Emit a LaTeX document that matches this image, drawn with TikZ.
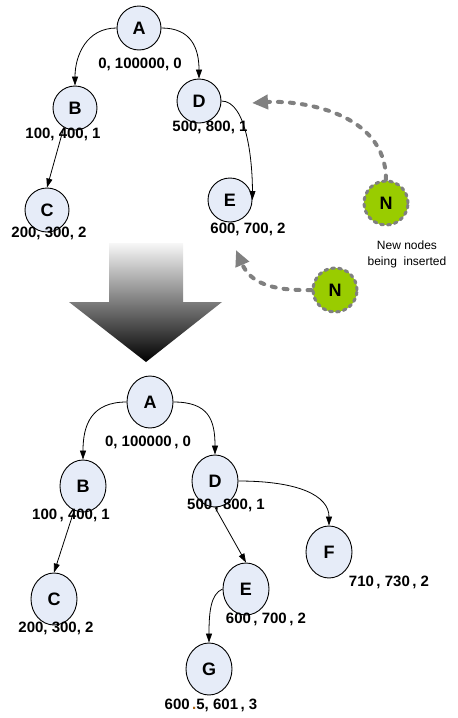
\documentclass[tikz,border=0pt]{standalone}
\usepackage{fontspec}
\setmainfont{Liberation Sans}
\usetikzlibrary{shapes.geometric,arrows.meta,calc}
\definecolor{nodefill}{RGB}{230,236,248}
\definecolor{newgreen}{RGB}{153,204,0}
\definecolor{insgray}{RGB}{128,128,128}
\definecolor{dotbrown}{RGB}{170,100,20}
\begin{document}
\begin{tikzpicture}[x=1pt,y=-1pt,
  treenode/.style={ellipse,draw=black,line width=0.9pt,fill=nodefill,inner sep=0pt,font=\fontsize{18}{18}\selectfont\bfseries},
  topnode/.style={treenode,minimum width=44pt,minimum height=44pt},
  botnode/.style={treenode,minimum width=46pt,minimum height=52pt},
  keylabel/.style={font=\fontsize{15}{15}\selectfont\bfseries,inner sep=0pt},
  edge/.style={draw=black,line width=0.8pt,-{Triangle[length=9pt,width=6pt]}},
  newnode/.style={circle,minimum size=44pt,inner sep=0pt,fill=newgreen,draw=insgray,line width=3pt,dash pattern=on 3pt off 4pt,line cap=round,font=\fontsize{18}{18}\selectfont\bfseries},
  insarrow/.style={draw=insgray,line width=4pt,dash pattern=on 4pt off 8pt,line cap=round,-{Triangle[length=16pt,width=14pt]}},
  note/.style={font=\fontsize{12}{16}\selectfont,align=center,inner sep=0pt}]
\useasboundingbox (0,0) rectangle (458,718);

% big gradient arrow
\shade[top color=gray!6, bottom color=black]
  (109,243) -- (183,243) -- (183,302) -- (222,302) -- (146,362) -- (69,302) -- (109,302) -- cycle;

% ---------- top tree ----------
\node[topnode] (tA) at (139,28) {A};
\node[topnode] (tB) at (75,108) {B};
\node[topnode] (tD) at (199,101) {D};
\node[topnode] (tC) at (47,210) {C};
\node[topnode] (tE) at (230,200) {E};

\draw[edge] (tA.west) .. controls +(-30,0) and +(0,-30) .. (tB.north);
\draw[edge] (tA.east) .. controls +(30,0) and +(0,-30) .. (tD.north);
\draw[edge] (tB.240) -- (tC.north);
\draw[edge] (tD.east) .. controls +(25,0) and +(0,-40) .. (tE.east);

\node[keylabel] (ltA) at (140,64) {0, 100000, 0};
\node[keylabel] (ltB) at (63,134) {100, 400, 1};
\node[keylabel] (ltD) at (210,127) {500, 800, 1};
\node[keylabel] (ltC) at (49,233) {200, 300, 2};
\node[keylabel] (ltE) at (248,229) {600, 700, 2};

% new nodes
\node[newnode] (n1) at (386,203) {N};
\node[newnode] (n2) at (335,290) {N};
\node[note] (nl) at (407,254) {New nodes\\being\ \ inserted};
\coordinate (ip1) at (252,103);
\coordinate (ip2) at (236,250);
\draw[insarrow] (n1.north) .. controls (386,112) and (300,100) .. (ip1);
\draw[insarrow] (n2.west) .. controls (270,291) and (250,282) .. (ip2);

% ---------- bottom tree ----------
\node[botnode] (bA) at (150,402) {A};
\node[botnode] (bB) at (83,486) {B};
\node[botnode] (bD) at (215,481) {D};
\node[botnode] (bC) at (54,599) {C};
\node[botnode] (bE) at (246,589) {E};
\node[botnode] (bF) at (329,552) {F};
\node[botnode] (bG) at (209,669) {G};

\draw[edge] (bA.west) .. controls +(-35,0) and +(0,-35) .. (bB.north);
\draw[edge] (bA.east) .. controls +(35,0) and +(0,-35) .. (bD.north);
\draw[edge] (bB.250) -- (bC.north);
\draw[edge] (bD.south) -- (bE.north);
\draw[edge] (bD.east) .. controls +(60,0) and +(0,-30) .. (bF.north);
\draw[edge] (bE.west) .. controls +(-12,5) and +(0,-30) .. (bG.north);

\node[keylabel] (lbA) at (148,442) {0, 100000\,, 0};
\node[keylabel] (lbB) at (71,515) {100\,, 400, 1};
\node[keylabel] (lbD) at (226,505) {500\,, 800, 1};
\node[keylabel] (lbC) at (56,628) {200, 300, 2};
\node[keylabel] (lbE) at (266,619) {600\,, 700\,, 2};
\node[keylabel] (lbF) at (389,582) {710\,, 730\,, 2};
\node[keylabel] (lbG) at (211,705) {600\,\textcolor{dotbrown}{.}5, 601\,, 3};
\end{tikzpicture}
\end{document}
